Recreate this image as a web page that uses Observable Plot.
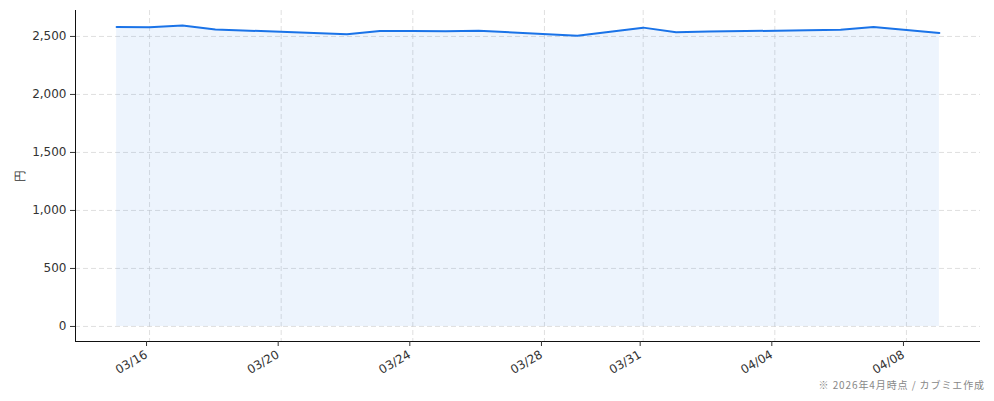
<!DOCTYPE html>
<html>
<head>
<meta charset="utf-8">
<script src="https://cdn.jsdelivr.net/npm/d3@7"></script>
<script src="https://cdn.jsdelivr.net/npm/@observablehq/plot@0.6"></script>
<style>
  html, body { margin: 0; padding: 0; background: #fff; }
  #wrap { width: 994px; }
  #caption { font-family: "Noto Sans CJK JP", "DejaVu Sans", sans-serif; font-size: 10px; letter-spacing: 0.9px; color: #888; text-align: right; padding-right: 9px; line-height: 13px; margin-top: 0px; }
</style>
</head>
<body>
<div id="wrap">
  <div id="chart"></div>
  <div id="caption">※ 2026年4月時点 / カブミエ作成</div>
</div>
<script>
const dates = ["2026-03-15","2026-03-16","2026-03-17","2026-03-18","2026-03-22","2026-03-23","2026-03-24","2026-03-25","2026-03-26","2026-03-29","2026-03-30","2026-03-31","2026-04-01","2026-04-02","2026-04-05","2026-04-06","2026-04-07","2026-04-08","2026-04-09"];
const prices = [2582,2579,2594,2560,2520,2547,2546,2545,2549,2507,2540,2576,2536,2542,2553,2558,2582,2556,2530];
const tickDates = ["2026-03-16","2026-03-20","2026-03-24","2026-03-28","2026-03-31","2026-04-04","2026-04-08"];
const yTicks = [0, 500, 1000, 1500, 2000, 2500];
const yLabel = "円";

const data = dates.map((d, i) => ({date: new Date(d + "T00:00:00Z"), price: prices[i]}));
const day = 86400000;
const x0 = new Date(data[0].date.getTime() - 1.25 * day);
const x1 = new Date(data[data.length - 1].date.getTime() + 1.25 * day);
const yMax = d3.max(prices);
const yDomain = [-0.05 * yMax, yMax * 1.05];
const xt = tickDates.map(d => new Date(d + "T00:00:00Z"));

const chart = Plot.plot({
  width: 994,
  height: 378,
  marginLeft: 75,
  marginRight: 14,
  marginTop: 10,
  marginBottom: 37,
  style: {fontFamily: "DejaVu Sans, sans-serif", fontSize: "12px", color: "#333", background: "#fff"},
  x: {type: "utc", domain: [x0, x1]},
  y: {domain: yDomain},
  marks: [
    Plot.gridX(xt, {stroke: "#ccc", strokeOpacity: 0.6, strokeDasharray: "5,3"}),
    Plot.gridY(yTicks, {stroke: "#ccc", strokeOpacity: 0.6, strokeDasharray: "5,3"}),
    Plot.areaY(data, {x: "date", y: "price", fill: "#1a73e8", fillOpacity: 0.08}),
    Plot.lineY(data, {x: "date", y: "price", stroke: "#1a73e8", strokeWidth: 2}),
    Plot.ruleX([x0], {stroke: "#111", strokeWidth: 1}),
    Plot.ruleY([yDomain[0]], {stroke: "#111", strokeWidth: 1}),
    Plot.axisX({ticks: xt, tickFormat: d3.utcFormat("%m/%d"), tickRotate: -30, tickSize: 5, tickPadding: 7, label: null, fontSize: 12, dx: -3}),
    Plot.axisY({ticks: yTicks, tickFormat: d3.format(","), tickSize: 5, tickPadding: 4, label: yLabel, labelAnchor: "center", labelArrow: "none", labelOffset: 60, fontSize: 12})
  ]
});
document.getElementById("chart").appendChild(chart);
</script>
</body>
</html>
